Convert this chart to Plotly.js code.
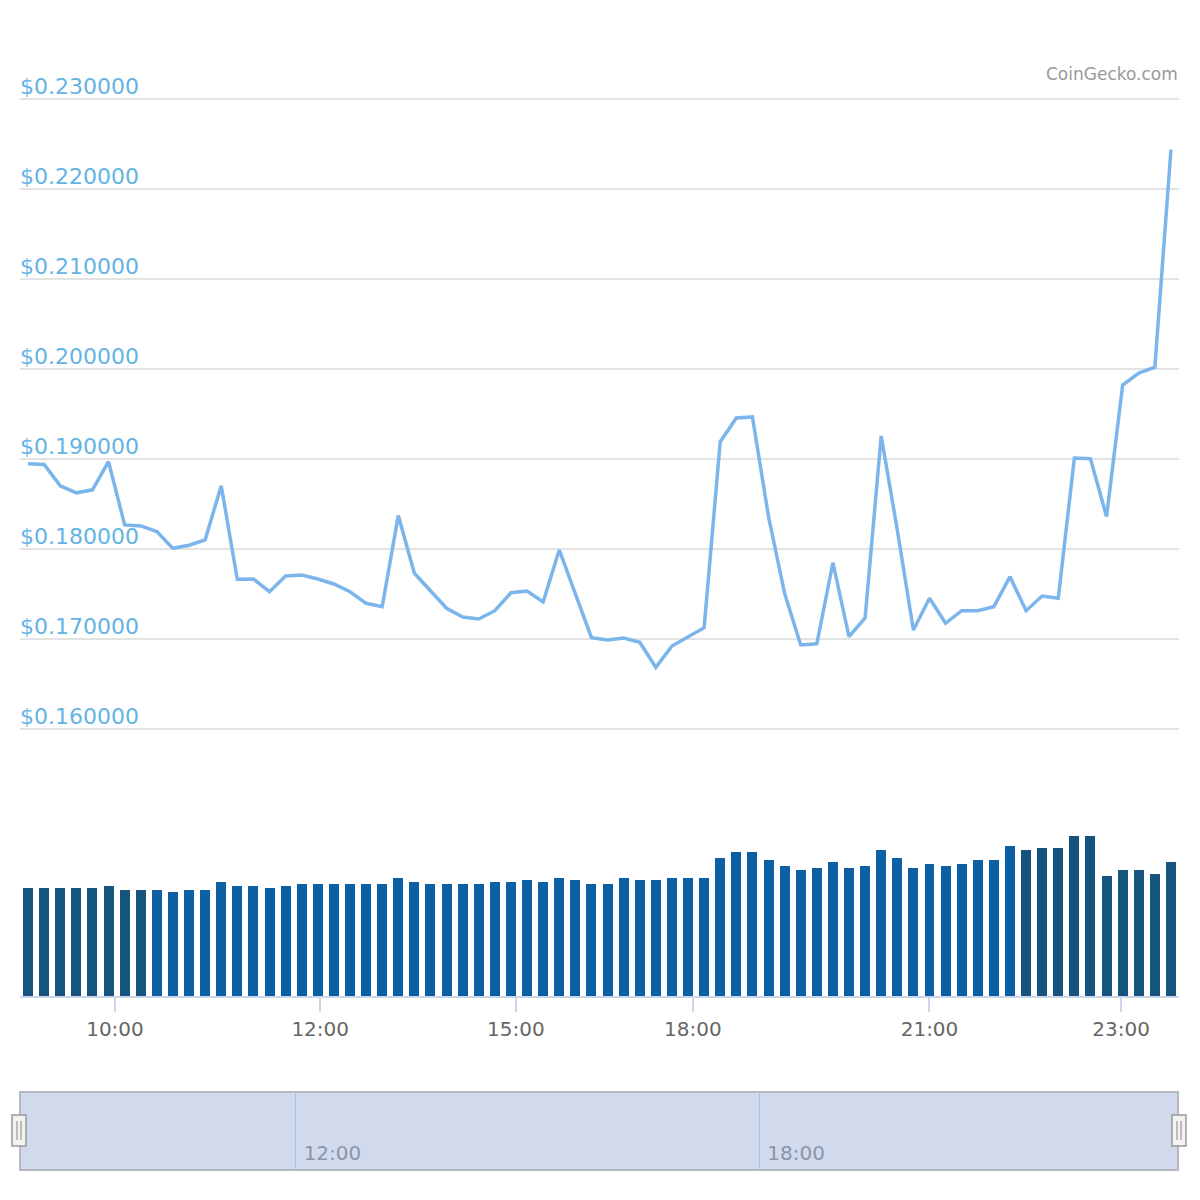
<!DOCTYPE html>
<html>
<head>
<meta charset="utf-8">
<script src="https://cdn.plot.ly/plotly-3.0.1.min.js"></script>
<style>
  html, body { margin: 0; padding: 0; background: #ffffff; }
  #chart { width: 1200px; height: 1200px; }
</style>
</head>
<body>
<div id="chart"></div>
<script>
// ---- Data ----
const priceUSD = [
  0.18944, 0.18936, 0.18699, 0.18621, 0.18654, 0.18967, 0.18264, 0.18253, 0.18190, 0.18004,
  0.18038, 0.18097, 0.18699, 0.17660, 0.17663, 0.17522, 0.17697, 0.17708, 0.17663, 0.17608,
  0.17522, 0.17393, 0.17356, 0.18368, 0.17727, 0.17530, 0.17338, 0.17241, 0.17219, 0.17311,
  0.17511, 0.17530, 0.17408, 0.17986, 0.17497, 0.17011, 0.16986, 0.17008, 0.16960, 0.16682,
  0.16919, 0.17022, 0.17122, 0.19189, 0.19453, 0.19464, 0.18357, 0.17503, 0.16930, 0.16944,
  0.17844, 0.17022, 0.17230, 0.19253, 0.18208, 0.17097, 0.17449, 0.17171, 0.17311, 0.17311,
  0.17356, 0.17689, 0.17311, 0.17474, 0.17449, 0.19008, 0.19000, 0.18357, 0.19819, 0.19951,
  0.20016, 0.22435
];

// Volume (relative units)
const volume = [
  10.8, 10.8, 10.8, 10.8, 10.8, 11.0, 10.6, 10.6, 10.6, 10.4,
  10.6, 10.6, 11.4, 11.0, 11.0, 10.8, 11.0, 11.2, 11.2, 11.2,
  11.2, 11.2, 11.2, 11.8, 11.4, 11.2, 11.2, 11.2, 11.2, 11.4,
  11.4, 11.6, 11.4, 11.8, 11.6, 11.2, 11.2, 11.8, 11.6, 11.6,
  11.8, 11.8, 11.8, 13.8, 14.4, 14.4, 13.6, 13.0, 12.6, 12.8,
  13.4, 12.8, 13.0, 14.6, 13.8, 12.8, 13.2, 13.0, 13.2, 13.6,
  13.6, 15.0, 14.6, 14.8, 14.8, 16.0, 16.0, 12.0, 12.6, 12.6,
  12.2, 13.4
];

// Main x-axis tick labels (ordinal axis: positions in point-index units)
const tickLabels = ['10:00', '12:00', '15:00', '18:00', '21:00', '23:00'];
const tickPositions = [5.4, 18.15, 30.3, 41.3, 56.0, 67.9];

// Price axis ticks
const priceTicks = [0.16, 0.17, 0.18, 0.19, 0.20, 0.21, 0.22, 0.23];

// Navigator (time axis)
const navigatorRange = ['2021-01-01 08:26', '2021-01-01 23:25'];
const navigatorTicks = ['2021-01-01 12:00', '2021-01-01 18:00'];
const navigatorTickLabels = ['12:00', '18:00'];

// ---- Build chart ----
const idx = priceUSD.map((_, i) => i);
const barColors = idx.map(i => (i < 8 || i >= 62) ? '#16537f' : '#0b5fa2');

const H = 1200, W = 1200;
const px = v => v / W;
const py = v => 1 - v / H;

const priceTrace = {
  type: 'scatter', mode: 'lines',
  x: idx, y: priceUSD,
  xaxis: 'x', yaxis: 'y',
  line: { color: '#7cb5ec', width: 3.5 },
  hoverinfo: 'skip', showlegend: false
};

const volumeTrace = {
  type: 'bar',
  x: idx, y: volume,
  xaxis: 'x', yaxis: 'y2',
  width: 0.62,
  marker: { color: barColors, line: { width: 0 } },
  hoverinfo: 'skip', showlegend: false
};

const navTrace = {
  type: 'scatter', mode: 'lines',
  x: [], y: [],
  xaxis: 'x3', yaxis: 'y3',
  hoverinfo: 'skip', showlegend: false
};

const handleShapes = [];
[19, 1179].forEach(cx => {
  handleShapes.push({
    type: 'rect', xref: 'paper', yref: 'paper',
    x0: px(cx - 7), x1: px(cx + 7), y0: py(1146), y1: py(1115),
    fillcolor: '#f2f2f2', line: { color: '#999999', width: 1.5 }, layer: 'above'
  });
  [-2, 2].forEach(dx => handleShapes.push({
    type: 'line', xref: 'paper', yref: 'paper',
    x0: px(cx + dx), x1: px(cx + dx), y0: py(1140), y1: py(1121),
    line: { color: '#888888', width: 1 }, layer: 'above'
  }));
});

const layout = {
  width: W, height: H,
  margin: { l: 0, r: 0, t: 0, b: 0 },
  paper_bgcolor: '#ffffff',
  plot_bgcolor: 'rgba(0,0,0,0)',
  showlegend: false,
  bargap: 0,
  xaxis: {
    domain: [px(20), px(1179)],
    range: [-0.5, 71.5],
    anchor: 'y2',
    showgrid: false, zeroline: false,
    showline: true, linecolor: '#ccd6eb', linewidth: 2,
    ticks: 'outside', ticklen: 14, tickwidth: 2, tickcolor: '#ccd6eb',
    tickmode: 'array', tickvals: tickPositions, ticktext: tickLabels,
    tickfont: { family: 'DejaVu Sans', size: 20, color: '#666666' },
    fixedrange: true
  },
  yaxis: {
    domain: [py(773.7), py(53.7)],
    range: [0.155, 0.235],
    anchor: 'free', position: px(19), side: 'right',
    showgrid: true, gridcolor: '#e3e3e3', gridwidth: 2,
    zeroline: false, showline: false,
    tickmode: 'array', tickvals: priceTicks,
    ticktext: priceTicks.map(v => '$' + v.toFixed(6)),
    ticklabelshift: -12, ticklabelstandoff: 0,
    ticks: '',
    tickfont: { family: 'DejaVu Sans', size: 22, color: '#63b3e4' },
    fixedrange: true
  },
  yaxis2: {
    domain: [py(996), py(776)],
    range: [0, 22],
    anchor: 'x',
    visible: false, fixedrange: true
  },
  xaxis3: {
    domain: [px(20), px(1178)],
    type: 'date',
    range: navigatorRange,
    anchor: 'y3',
    showgrid: true, gridcolor: '#a9c0e6', gridwidth: 1.5,
    zeroline: false, showline: false,
    tickmode: 'array', tickvals: navigatorTicks, ticktext: navigatorTickLabels,
    ticklabelposition: 'inside right', ticklabelshift: 8, ticks: '',
    tickfont: { family: 'DejaVu Sans', size: 20, color: '#8a95ab' },
    fixedrange: true
  },
  yaxis3: {
    domain: [py(1170), py(1092)],
    range: [0, 1],
    anchor: 'x3',
    visible: false, fixedrange: true
  },
  shapes: [
    {
      type: 'rect', xref: 'x3 domain', yref: 'y3 domain',
      x0: 0, x1: 1, y0: 0, y1: 1,
      fillcolor: '#d1daec', line: { color: '#b5b8c0', width: 2 }, layer: 'below'
    }
  ].concat(handleShapes),
  annotations: [
    {
      text: 'CoinGecko.com', xref: 'paper', yref: 'paper',
      x: px(1180), y: py(74), xanchor: 'right', yanchor: 'middle',
      showarrow: false,
      font: { family: 'DejaVu Sans', size: 17, color: '#999999' }
    }
  ]
};

Plotly.newPlot('chart', [priceTrace, volumeTrace, navTrace], layout, { displayModeBar: false, staticPlot: true });
</script>
</body>
</html>
